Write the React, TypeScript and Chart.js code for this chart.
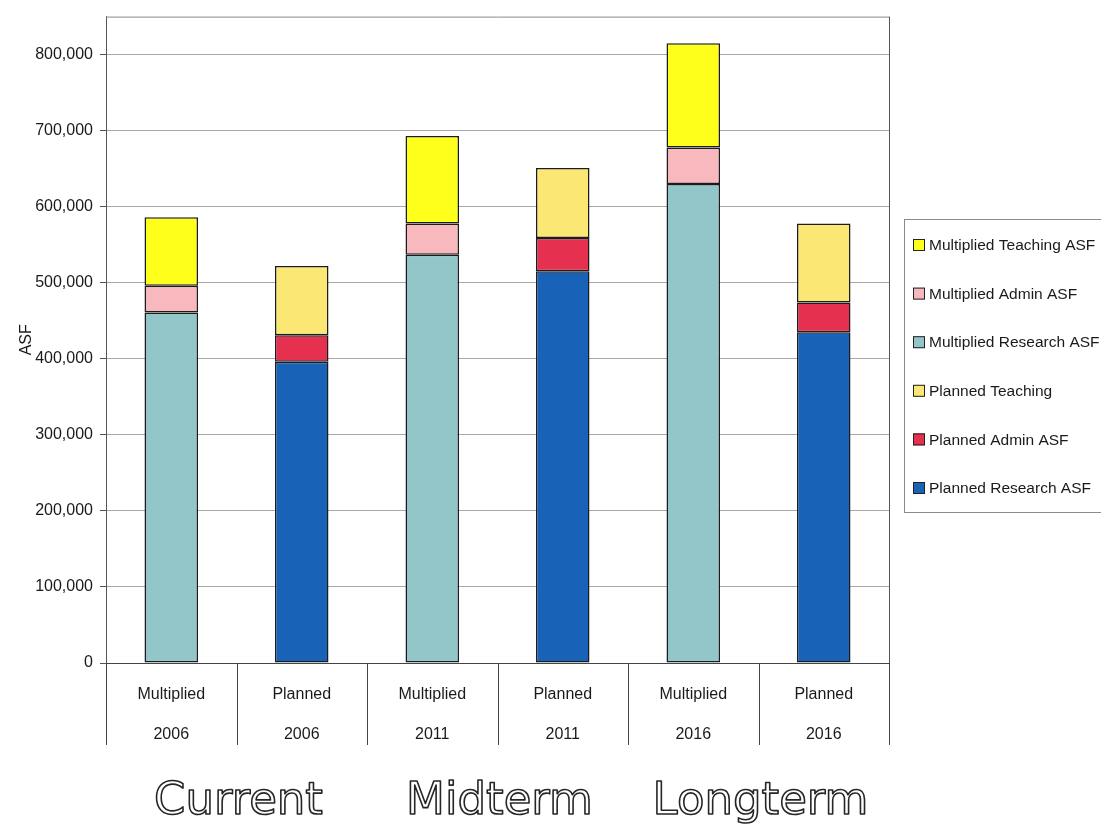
import React, { useEffect, useRef } from 'react';
import { Chart, registerables } from 'chart.js';

Chart.register(...registerables);

// Category axis: scenario on the first line, year on the second
const categories: string[][] = [
  ['Multiplied', '2006'],
  ['Planned', '2006'],
  ['Multiplied', '2011'],
  ['Planned', '2011'],
  ['Multiplied', '2016'],
  ['Planned', '2016'],
];

// Period captions, one per pair of categories
const periods = ['Current', 'Midterm', 'Longterm'];

// Assignable square feet per space type
const plannedResearch = [null, 396000, null, 515000, null, 435000];
const plannedAdmin = [null, 35000, null, 44000, null, 39000];
const plannedTeaching = [null, 91000, null, 92000, null, 104000];
const multipliedResearch = [461000, null, 537000, null, 630000, null];
const multipliedAdmin = [35000, null, 41000, null, 48000, null];
const multipliedTeaching = [90000, null, 115000, null, 137000, null];

const yTickValues = [0, 100000, 200000, 300000, 400000, 500000, 600000, 700000, 800000];
const yMax = 850000;

const TEXT = '#1a1a1a';
const FONT = "'Liberation Sans', Arial, sans-serif";

// Frame around the plot, cell separators under the category axis, period captions
const decorations = {
  id: 'decorations',
  afterDraw(chart: any) {
    const { ctx, chartArea } = chart;
    const xs = chart.scales.x;
    const n = categories.length;
    const step = (xs.right - xs.left) / n;
    ctx.save();
    // plot frame (top and right)
    ctx.lineWidth = 1;
    ctx.strokeStyle = '#8a8a8a';
    ctx.beginPath();
    ctx.moveTo(chartArea.left, chartArea.top + 0.5);
    ctx.lineTo(chartArea.right, chartArea.top + 0.5);
    ctx.stroke();
    ctx.strokeStyle = '#555555';
    ctx.beginPath();
    ctx.moveTo(Math.round(chartArea.right) + 0.5, chartArea.top);
    ctx.lineTo(Math.round(chartArea.right) + 0.5, chartArea.bottom);
    ctx.stroke();
    // category cell separators
    ctx.strokeStyle = '#444444';
    for (let i = 0; i <= n; i++) {
      const x = Math.round(xs.left + i * step) + 0.5;
      ctx.beginPath();
      ctx.moveTo(x, chartArea.bottom);
      ctx.lineTo(x, chartArea.bottom + 82);
      ctx.stroke();
    }
    // outlined period captions centred under each pair
    ctx.font = "45px 'DejaVu Sans', sans-serif";
    ctx.textAlign = 'center';
    ctx.textBaseline = 'alphabetic';
    ctx.lineWidth = 1.6;
    ctx.strokeStyle = '#262626';
    ctx.fillStyle = '#ffffff';
    ctx.lineJoin = 'round';
    periods.forEach((p, g) => {
      const cx = (xs.getPixelForValue(2 * g) + xs.getPixelForValue(2 * g + 1)) / 2 + 2;
      ctx.fillText(p, cx, 814);
      ctx.strokeText(p, cx, 814);
    });
    ctx.restore();
  },
};

// Boxed legend to the right of the plot, top series first
const boxedLegend = {
  id: 'boxedLegend',
  afterDraw(chart: any) {
    const { ctx, chartArea } = chart;
    const left = chartArea.right + 15;
    const top = 219;
    const rowGap = 48.6;
    const firstRow = 245;
    ctx.save();
    ctx.strokeStyle = '#8a8a8a';
    ctx.lineWidth = 1;
    ctx.strokeRect(Math.round(left) + 0.5, top + 0.5, 240, 293);
    const items = chart.data.datasets.slice().reverse();
    ctx.font = `15.5px ${FONT}`;
    ctx.textBaseline = 'middle';
    ctx.textAlign = 'left';
    items.forEach((ds: any, i: number) => {
      const y = firstRow + i * rowGap;
      ctx.fillStyle = ds.backgroundColor;
      ctx.fillRect(left + 9, y - 6, 12, 12);
      ctx.strokeStyle = '#222';
      ctx.lineWidth = 1;
      ctx.strokeRect(left + 9.5, y - 5.5, 11, 11);
      ctx.fillStyle = TEXT;
      ctx.fillText(ds.label, left + 25, y + 1);
    });
    ctx.restore();
  },
};

function makeSet(label: string, data: (number | null)[], color: string) {
  return {
    label,
    data,
    backgroundColor: color,
    borderColor: '#1c1c1c',
    borderWidth: 1.5,
    borderSkipped: false,
    barPercentage: 0.41,
    categoryPercentage: 1,
  };
}

export default function App() {
  const canvasRef = useRef<HTMLCanvasElement | null>(null);

  useEffect(() => {
    if (!canvasRef.current) return;
    const chart = new Chart(canvasRef.current, {
      type: 'bar',
      data: {
        labels: categories,
        datasets: [
          makeSet('Planned Research ASF', plannedResearch, '#1862b8'),
          makeSet('Planned Admin ASF', plannedAdmin, '#e5304f'),
          makeSet('Planned Teaching', plannedTeaching, '#fbe874'),
          makeSet('Multiplied Research ASF', multipliedResearch, '#93c6c8'),
          makeSet('Multiplied Admin ASF', multipliedAdmin, '#f7b8be'),
          makeSet('Multiplied Teaching ASF', multipliedTeaching, '#ffff1c'),
        ] as any,
      },
      options: {
        responsive: false,
        animation: false,
        layout: { padding: { top: 16, right: 212, left: 0, bottom: 0 } },
        plugins: {
          legend: { display: false },
          tooltip: { enabled: false },
        },
        scales: {
          x: {
            stacked: true,
            grid: { display: false },
            border: { display: true, color: '#444444', width: 1 },
            ticks: {
              color: TEXT,
              font: { family: FONT, size: 16, lineHeight: 2.5 },
              padding: 4,
              maxRotation: 0,
              autoSkip: false,
            },
            afterFit(scale: any) {
              scale.height = 164;
            },
          },
          y: {
            stacked: true,
            min: 0,
            max: yMax,
            ticks: {
              stepSize: 100000,
              color: TEXT,
              font: { family: FONT, size: 16 },
              padding: 7,
              callback: (v: any) => Number(v).toLocaleString('en-US'),
            },
            afterBuildTicks(scale: any) {
              scale.ticks = yTickValues.map((value) => ({ value }));
            },
            grid: {
              color: '#a8a8a8',
              lineWidth: 1,
              tickLength: 6,
              tickColor: '#555555',
            },
            border: { display: true, color: '#555555', width: 1 },
            title: {
              display: true,
              text: 'ASF',
              color: TEXT,
              font: { family: FONT, size: 16 },
              padding: { top: 17, bottom: 0 },
            },
            afterFit(scale: any) {
              scale.width = 106;
            },
          },
        },
      } as any,
      plugins: [decorations, boxedLegend],
    });
    return () => chart.destroy();
  }, []);

  return (
    <div style={{ position: 'fixed', left: 0, top: 0, width: 1101, height: 827, background: '#ffffff' }}>
      <canvas ref={canvasRef} width={1101} height={827} style={{ display: 'block' }} />
    </div>
  );
}
